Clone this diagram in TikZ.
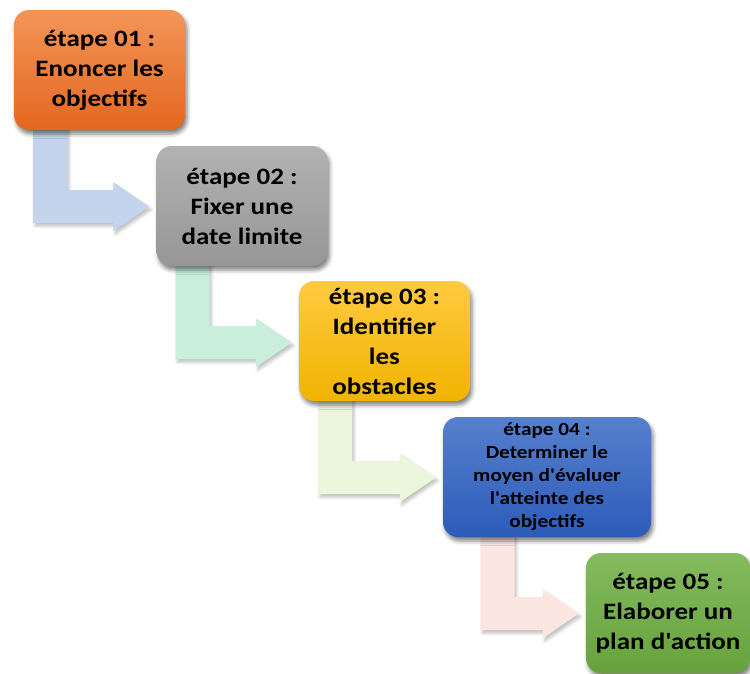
\documentclass[tikz,border=0pt]{standalone}
\usepackage{fontspec}
% family without the TeX quote ligatures, so ' stays a straight apostrophe
\newfontfamily\stagefont{Carlito}[FakeStretch=1.15]
\usetikzlibrary{calc,shadows.blur}
\pgfdeclarelayer{background}
\pgfsetlayers{background,main}

% stage fills (top / bottom of the gradient)
\definecolor{orangeT}{HTML}{F39558}
\definecolor{orangeB}{HTML}{E4671F}
\definecolor{grayT}{HTML}{B2B2B2}
\definecolor{grayB}{HTML}{969696}
\definecolor{goldT}{HTML}{FFCA40}
\definecolor{goldB}{HTML}{F0B400}
\definecolor{blueT}{HTML}{5680CD}
\definecolor{blueB}{HTML}{2D5BB9}
\definecolor{greenT}{HTML}{84BB5E}
\definecolor{greenB}{HTML}{66A23C}
% bent arrow fills
\definecolor{arrBlue}{HTML}{C3D4EC}
\definecolor{arrMint}{HTML}{C9EEDB}
\definecolor{arrLime}{HTML}{EBF6DD}
\definecolor{arrPink}{HTML}{FBE6E1}

\tikzset{
  stage/.style={rounded corners=15pt, minimum width=171pt, minimum height=120pt,
    inner sep=0pt, align=center, text=black,
    font=\stagefont\bfseries\fontsize{23.5}{30}\selectfont,
    blur shadow={shadow xshift=2pt, shadow yshift=-4pt,
      shadow blur radius=4pt, shadow opacity=50}},
  bentarrow/.style={blur shadow={shadow xshift=2pt, shadow yshift=-3pt,
      shadow blur radius=3pt, shadow opacity=25}},
}

% L-shaped arrow leaving the bottom of #1 and pointing at the left side of #2
\newcommand\stagelink[3]{%
  \path[fill=#3, bentarrow] let \p1=(#1.south), \p2=(#2.west) in
    (\x1-66.5pt, \y1+5pt) -- (\x1-32.5pt, \y1+5pt) -- (\x1-32.5pt, \y1-60pt)
    -- (\x2-43pt, \y1-60pt) -- (\x2-43pt, \y1-52pt) -- (\x2-7pt, \y1-76.5pt)
    -- (\x2-43pt, \y1-101pt) -- (\x2-43pt, \y1-93pt) -- (\x1-66.5pt, \y1-93pt)
    -- cycle;}

\begin{document}
\begin{tikzpicture}[x=1pt, y=-1pt]
  \useasboundingbox (0,0) rectangle (750,673);

  \node[stage, top color=orangeT, bottom color=orangeB] (s1) at (99.5,70)
    {étape 01 :\\Enoncer les\\objectifs};
  \node[stage, top color=grayT, bottom color=grayB] (s2) at (242,206)
    {étape 02 :\\Fixer une\\date limite};
  \node[stage, top color=goldT, bottom color=goldB] (s3) at (384.5,341)
    {étape 03 :\\Identifier\\les\\obstacles};
  \node[stage, top color=blueT, bottom color=blueB, minimum width=208pt,
        font=\stagefont\bfseries\fontsize{18.5}{23}\selectfont] (s4) at (547,477)
    {étape 04 :\\Determiner le\\moyen d'évaluer\\l'atteinte des\\objectifs};
  \node[stage, top color=greenT, bottom color=greenB, minimum width=164pt] (s5) at (668,613)
    {étape 05 :\\Elaborer un\\plan d'action};

  \begin{pgfonlayer}{background}
    \stagelink{s1}{s2}{arrBlue}
    \stagelink{s2}{s3}{arrMint}
    \stagelink{s3}{s4}{arrLime}
    \stagelink{s4}{s5}{arrPink}
  \end{pgfonlayer}
\end{tikzpicture}
\end{document}
